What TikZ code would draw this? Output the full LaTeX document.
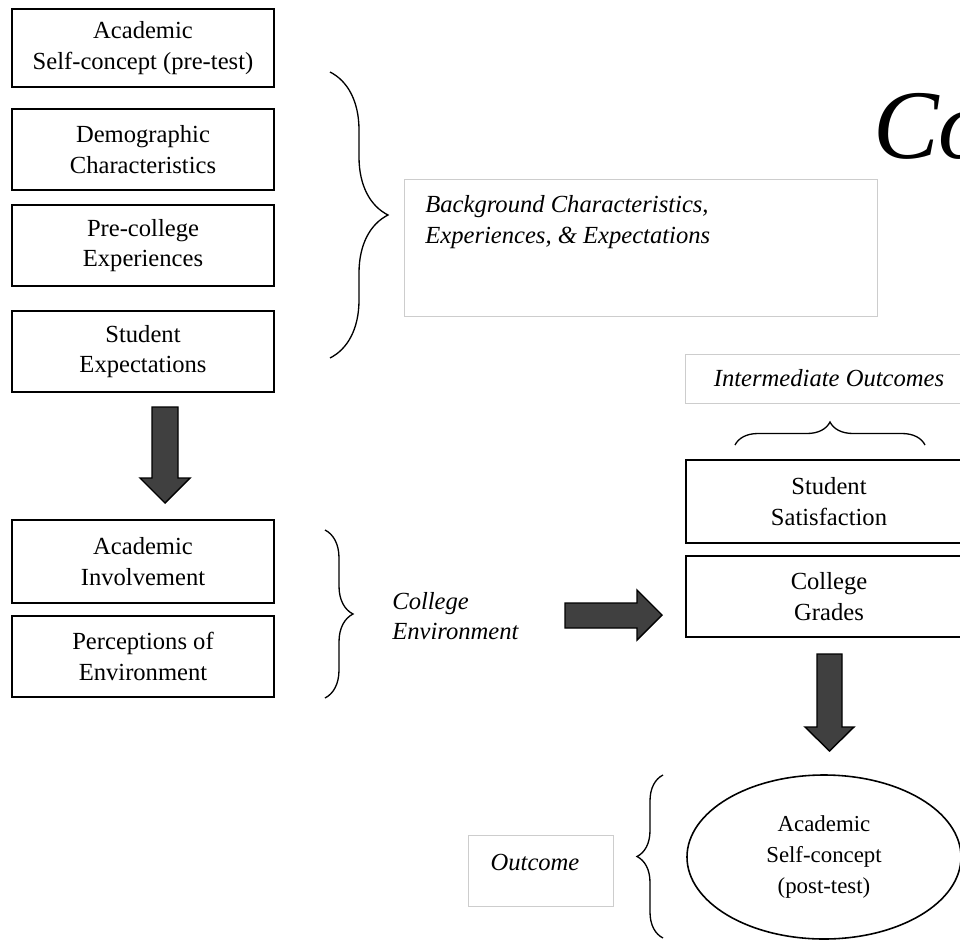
\documentclass[tikz,border=0pt]{standalone}
\usepackage{fontspec}
\setmainfont{Liberation Serif}
\usepackage{tikz}
\usetikzlibrary{positioning,shapes.geometric,decorations.pathreplacing}
\definecolor{arrowcolor}{RGB}{64,64,64}
\definecolor{framecolor}{RGB}{205,205,205}

\begin{document}
\begin{tikzpicture}[
  x=0.02cm, y=-0.02cm,
  varbox/.style  = {rectangle, draw=black, line width=0.9pt, fill=white,
                    minimum width=262*0.02cm, inner sep=0pt,
                    align=center, font=\fontsize{14}{17.5}\selectfont},
  lblbox/.style  = {rectangle, draw=framecolor, line width=0.6pt, inner sep=0pt},
  lbl/.style     = {font=\fontsize{14}{17.5}\selectfont\itshape, inner sep=0pt},
  blk/.style     = {fill=arrowcolor, draw=black, line width=0.8pt, line join=miter},
  curly/.style   = {decorate, line width=0.75pt,
                    decoration={brace, amplitude=#1}}
]
\useasboundingbox (0,0) rectangle (960,940);
\clip (0,0) rectangle (960,940);

\node[varbox, minimum height=78*0.02cm] (pre)  at (143,48)
      {Academic\\Self-concept (pre-test)};
\node[varbox, minimum height=81*0.02cm] (demo) at (143,149.5)
      {Demographic\\Characteristics};
\node[varbox, minimum height=81*0.02cm] (exp)  at (143,245.5)
      {Pre-college\\Experiences};
\node[varbox, minimum height=81*0.02cm] (expt) at (143,351.5)
      {Student\\Expectations};

\node[varbox, minimum height=83*0.02cm] (inv)  at (143,561.5)
      {Academic\\Involvement};
\node[varbox, minimum height=81*0.02cm] (perc) at (143,656.5)
      {Perceptions of\\Environment};

\node[varbox, minimum width=286*0.02cm, minimum height=83*0.02cm] (sat)
      at (829,501.5) {Student\\Satisfaction};
\node[varbox, minimum width=286*0.02cm, minimum height=81*0.02cm] (grd)
      at (829,596.5) {College\\Grades};

\node[varbox, ellipse, minimum width=274*0.02cm, minimum height=164*0.02cm,
      font=\fontsize{13}{17.5}\selectfont] (post) at (824,857)
      {Academic\\Self-concept\\(post-test)};

\node[lblbox, minimum width=473*0.02cm, minimum height=137*0.02cm,
      anchor=north west] (bgbox) at (404,179) {};
\node[lbl, align=left, anchor=west] (bgtxt) at (425,222)
      {Background Characteristics,\\Experiences, \& Expectations};

\node[lblbox, minimum width=290*0.02cm, minimum height=49*0.02cm,
      anchor=north west] (intbox) at (685,354) {};
\node[lbl] (inttxt) at (829,378) {Intermediate Outcomes};

\node[lblbox, minimum width=145*0.02cm, minimum height=71*0.02cm,
      anchor=north west] (outbox) at (468,835) {};
\node[lbl] (outtxt) at (535,862) {Outcome};

\node[lbl, align=left, anchor=west] (envtxt) at (392,616)
      {College\\Environment};

\node[font=\fontsize{56}{60}\selectfont\itshape, inner sep=0pt,
      anchor=base west] (ttl) at (873,158) {Co};

\draw[curly=58*0.02cm] (330,72) -- (330,358);
\draw[curly=28*0.02cm] (325,530) -- (325,698);
\draw[curly=23*0.02cm] (735,445) -- (925,445);
\draw[curly=26*0.02cm] (663,938) -- (663,775);

\draw[blk] (152,407) -- (178,407) -- (178,478) -- (190,478) -- (165,503)
      -- (140,478) -- (152,478) -- cycle;
\draw[blk] (565,603) -- (637,603) -- (637,590) -- (662,615) -- (637,640)
      -- (637,628) -- (565,628) -- cycle;
\draw[blk] (817,654) -- (842,654) -- (842,727) -- (854,727) -- (829.5,751)
      -- (805,727) -- (817,727) -- cycle;
\end{tikzpicture}
\end{document}
